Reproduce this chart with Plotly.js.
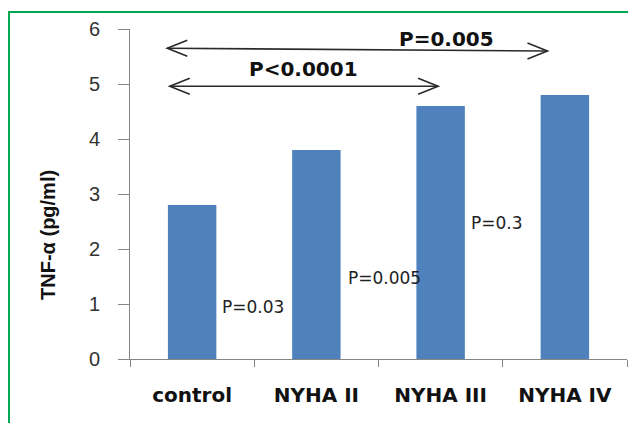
<!DOCTYPE html>
<html>
<head>
<meta charset="utf-8">
<script src="https://cdn.plot.ly/plotly-3.0.1.min.js"></script>
<style>
  html, body { margin: 0; padding: 0; background: #fff; }
  #chart { position: absolute; left: 0; top: 0; width: 628px; height: 423px; }
  #frame { position: absolute; left: 8px; top: 11px; width: 620px; height: 412px;
           border-left: 2px solid #00a651; border-top: 2px solid #00a651; box-sizing: border-box; pointer-events: none; }
</style>
</head>
<body>
<div id="chart"></div>
<div id="frame"></div>
<script>
const categories = ['control', 'NYHA II', 'NYHA III', 'NYHA IV'];
const tnfValues = [2.8, 3.8, 4.6, 4.8];
const yTickValues = [0, 1, 2, 3, 4, 5, 6];
const pairLabels = ['P=0.03', 'P=0.005', 'P=0.3'];
const longLabels = ['P=0.005', 'P<0.0001'];
const yTitle = 'TNF-α (pg/ml)';

const trace = {
  type: 'bar',
  x: categories,
  y: tnfValues,
  marker: { color: '#4f81bd', line: { width: 0 } },
  hoverinfo: 'none'
};

const smallFont = { family: 'DejaVu Sans', size: 17, color: '#222' };
const bigFont = { family: 'DejaVu Sans', size: 20, color: '#111', weight: 'bold' };

const annotations = [
  { x: 0.49, y: 0.95, text: pairLabels[0] },
  { x: 1.55, y: 1.47, text: pairLabels[1] },
  { x: 2.45, y: 2.47, text: pairLabels[2] }
].map(a => Object.assign({ xref: 'x', yref: 'y', showarrow: false, font: smallFont }, a));

annotations.push({ xref: 'x', yref: 'y', x: 2.05, y: 5.82, text: longLabels[0], showarrow: false, font: bigFont });
annotations.push({ xref: 'x', yref: 'y', x: 0.9, y: 5.27, text: longLabels[1], showarrow: false, font: bigFont });
annotations.push({
  xref: 'paper', yref: 'paper', x: -0.165, y: 0.376, xanchor: 'center', yanchor: 'middle', textangle: -90,
  text: yTitle, showarrow: false,
  font: { family: 'Liberation Sans', size: 20, color: '#111', weight: 'bold' }
});

// double-headed arrows: a line plus open chevrons sized in pixels
const arrowColor = '#2a2a2a';
function doubleArrow(x0, y0, x1, y1) {
  const ln = { color: arrowColor, width: 1.6 };
  return [
    { type: 'line', xref: 'x', yref: 'y', x0: x0, y0: y0, x1: x1, y1: y1, line: ln },
    { type: 'path', xref: 'x', yref: 'y', xsizemode: 'pixel', ysizemode: 'pixel',
      xanchor: x0, yanchor: y0, path: 'M 20,-8 L 0,0 L 20,8', line: ln },
    { type: 'path', xref: 'x', yref: 'y', xsizemode: 'pixel', ysizemode: 'pixel',
      xanchor: x1, yanchor: y1, path: 'M -20,-8 L 0,0 L -20,8', line: ln }
  ];
}
const shapes = [].concat(
  doubleArrow(-0.2, 5.65, 2.86, 5.6),
  doubleArrow(-0.18, 4.96, 1.98, 4.96)
);

const layout = {
  width: 628, height: 423,
  margin: { l: 130, r: 1, t: 29, b: 64 },
  paper_bgcolor: 'rgba(0,0,0,0)', plot_bgcolor: '#fff',
  showlegend: false,
  bargap: 0.61,
  xaxis: {
    type: 'category',
    tickson: 'boundaries',
    ticks: 'outside', ticklen: 7, tickcolor: '#868686', tickwidth: 1,
    showline: true, linecolor: '#868686', linewidth: 1,
    showgrid: false, zeroline: false,
    ticklabelstandoff: 18,
    tickfont: { family: 'DejaVu Sans', size: 20, color: '#111', weight: 'bold' }
  },
  yaxis: {
    range: [0, 6],
    tickvals: yTickValues,
    ticks: 'outside', ticklen: 11, tickcolor: '#868686', tickwidth: 1,
    showline: true, linecolor: '#868686', linewidth: 1,
    showgrid: false, zeroline: false,
    ticklabelstandoff: 14,
    tickfont: { family: 'Liberation Sans', size: 20, color: '#333' }
  },
  annotations: annotations,
  shapes: shapes
};

Plotly.newPlot('chart', [trace], layout, { displayModeBar: false, staticPlot: true });
</script>
</body>
</html>
